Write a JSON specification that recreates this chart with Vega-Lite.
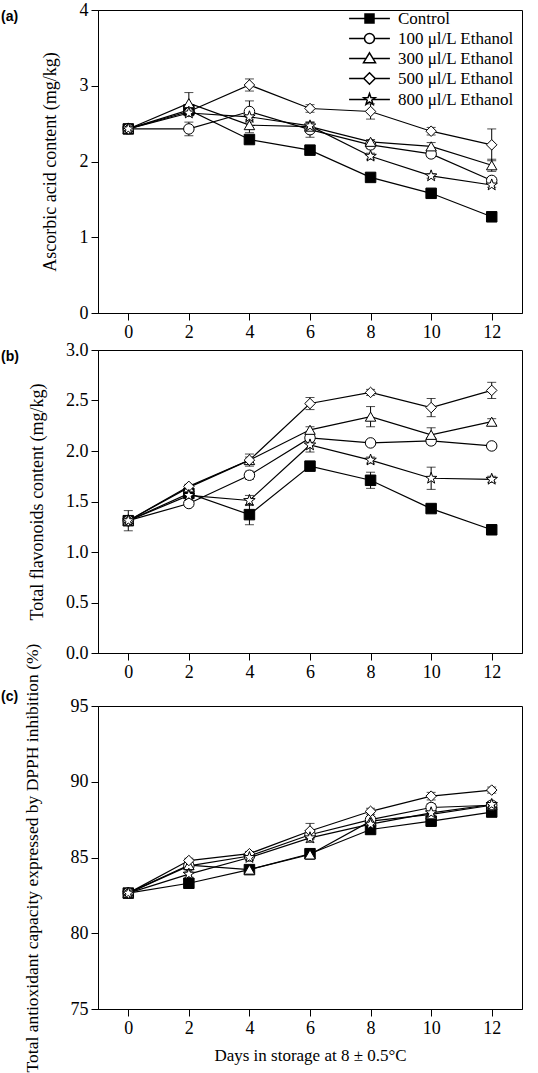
{
  "$schema": "https://vega.github.io/schema/vega-lite/v6.json",
  "background": "white",
  "padding": {"left": 0, "top": 0, "right": 5, "bottom": 0},
  "datasets": {
    "d": [
      {"panel": "a", "series": "Control", "day": 0, "value": 2.43, "err": 0.03},
      {"panel": "a", "series": "Control", "day": 2, "value": 2.68, "err": 0.05},
      {"panel": "a", "series": "Control", "day": 4, "value": 2.29, "err": 0.03},
      {"panel": "a", "series": "Control", "day": 6, "value": 2.15, "err": 0.03},
      {"panel": "a", "series": "Control", "day": 8, "value": 1.79, "err": 0.03},
      {"panel": "a", "series": "Control", "day": 10, "value": 1.58, "err": 0.03},
      {"panel": "a", "series": "Control", "day": 12, "value": 1.27, "err": 0.03},
      {"panel": "a", "series": "100 μl/L Ethanol", "day": 0, "value": 2.43, "err": 0.03},
      {"panel": "a", "series": "100 μl/L Ethanol", "day": 2, "value": 2.43, "err": 0.09},
      {"panel": "a", "series": "100 μl/L Ethanol", "day": 4, "value": 2.66, "err": 0.14},
      {"panel": "a", "series": "100 μl/L Ethanol", "day": 6, "value": 2.42, "err": 0.1},
      {"panel": "a", "series": "100 μl/L Ethanol", "day": 8, "value": 2.22, "err": 0.05},
      {"panel": "a", "series": "100 μl/L Ethanol", "day": 10, "value": 2.1, "err": 0.04},
      {"panel": "a", "series": "100 μl/L Ethanol", "day": 12, "value": 1.75, "err": 0.04},
      {"panel": "a", "series": "300 μl/L Ethanol", "day": 0, "value": 2.43, "err": 0.03},
      {"panel": "a", "series": "300 μl/L Ethanol", "day": 2, "value": 2.77, "err": 0.14},
      {"panel": "a", "series": "300 μl/L Ethanol", "day": 4, "value": 2.48, "err": 0.1},
      {"panel": "a", "series": "300 μl/L Ethanol", "day": 6, "value": 2.46, "err": 0.05},
      {"panel": "a", "series": "300 μl/L Ethanol", "day": 8, "value": 2.26, "err": 0.03},
      {"panel": "a", "series": "300 μl/L Ethanol", "day": 10, "value": 2.2, "err": 0.05},
      {"panel": "a", "series": "300 μl/L Ethanol", "day": 12, "value": 1.95, "err": 0.08},
      {"panel": "a", "series": "500 μl/L Ethanol", "day": 0, "value": 2.43, "err": 0.03},
      {"panel": "a", "series": "500 μl/L Ethanol", "day": 2, "value": 2.66, "err": 0.05},
      {"panel": "a", "series": "500 μl/L Ethanol", "day": 4, "value": 3.01, "err": 0.08},
      {"panel": "a", "series": "500 μl/L Ethanol", "day": 6, "value": 2.7, "err": 0.05},
      {"panel": "a", "series": "500 μl/L Ethanol", "day": 8, "value": 2.66, "err": 0.1},
      {"panel": "a", "series": "500 μl/L Ethanol", "day": 10, "value": 2.4, "err": 0.05},
      {"panel": "a", "series": "500 μl/L Ethanol", "day": 12, "value": 2.22, "err": 0.21},
      {"panel": "a", "series": "800 μl/L Ethanol", "day": 0, "value": 2.43, "err": 0.03},
      {"panel": "a", "series": "800 μl/L Ethanol", "day": 2, "value": 2.64, "err": 0.04},
      {"panel": "a", "series": "800 μl/L Ethanol", "day": 4, "value": 2.59, "err": 0.04},
      {"panel": "a", "series": "800 μl/L Ethanol", "day": 6, "value": 2.47, "err": 0.05},
      {"panel": "a", "series": "800 μl/L Ethanol", "day": 8, "value": 2.07, "err": 0.04},
      {"panel": "a", "series": "800 μl/L Ethanol", "day": 10, "value": 1.81, "err": 0.03},
      {"panel": "a", "series": "800 μl/L Ethanol", "day": 12, "value": 1.69, "err": 0.03},

      {"panel": "b", "series": "Control", "day": 0, "value": 1.31, "err": 0.1},
      {"panel": "b", "series": "Control", "day": 2, "value": 1.58, "err": 0.03},
      {"panel": "b", "series": "Control", "day": 4, "value": 1.37, "err": 0.1},
      {"panel": "b", "series": "Control", "day": 6, "value": 1.85, "err": 0.03},
      {"panel": "b", "series": "Control", "day": 8, "value": 1.71, "err": 0.08},
      {"panel": "b", "series": "Control", "day": 10, "value": 1.43, "err": 0.03},
      {"panel": "b", "series": "Control", "day": 12, "value": 1.22, "err": 0.02},
      {"panel": "b", "series": "100 μl/L Ethanol", "day": 0, "value": 1.31, "err": 0.03},
      {"panel": "b", "series": "100 μl/L Ethanol", "day": 2, "value": 1.48, "err": 0.03},
      {"panel": "b", "series": "100 μl/L Ethanol", "day": 4, "value": 1.76, "err": 0.04},
      {"panel": "b", "series": "100 μl/L Ethanol", "day": 6, "value": 2.13, "err": 0.04},
      {"panel": "b", "series": "100 μl/L Ethanol", "day": 8, "value": 2.08, "err": 0.03},
      {"panel": "b", "series": "100 μl/L Ethanol", "day": 10, "value": 2.1, "err": 0.03},
      {"panel": "b", "series": "100 μl/L Ethanol", "day": 12, "value": 2.05, "err": 0.03},
      {"panel": "b", "series": "300 μl/L Ethanol", "day": 0, "value": 1.31, "err": 0.03},
      {"panel": "b", "series": "300 μl/L Ethanol", "day": 2, "value": 1.64, "err": 0.02},
      {"panel": "b", "series": "300 μl/L Ethanol", "day": 4, "value": 1.91, "err": 0.03},
      {"panel": "b", "series": "300 μl/L Ethanol", "day": 6, "value": 2.21, "err": 0.03},
      {"panel": "b", "series": "300 μl/L Ethanol", "day": 8, "value": 2.34, "err": 0.1},
      {"panel": "b", "series": "300 μl/L Ethanol", "day": 10, "value": 2.16, "err": 0.07},
      {"panel": "b", "series": "300 μl/L Ethanol", "day": 12, "value": 2.29, "err": 0.03},
      {"panel": "b", "series": "500 μl/L Ethanol", "day": 0, "value": 1.31, "err": 0.03},
      {"panel": "b", "series": "500 μl/L Ethanol", "day": 2, "value": 1.65, "err": 0.02},
      {"panel": "b", "series": "500 μl/L Ethanol", "day": 4, "value": 1.91, "err": 0.06},
      {"panel": "b", "series": "500 μl/L Ethanol", "day": 6, "value": 2.47, "err": 0.06},
      {"panel": "b", "series": "500 μl/L Ethanol", "day": 8, "value": 2.58, "err": 0.03},
      {"panel": "b", "series": "500 μl/L Ethanol", "day": 10, "value": 2.43, "err": 0.09},
      {"panel": "b", "series": "500 μl/L Ethanol", "day": 12, "value": 2.6, "err": 0.08},
      {"panel": "b", "series": "800 μl/L Ethanol", "day": 0, "value": 1.31, "err": 0.03},
      {"panel": "b", "series": "800 μl/L Ethanol", "day": 2, "value": 1.56, "err": 0.03},
      {"panel": "b", "series": "800 μl/L Ethanol", "day": 4, "value": 1.51, "err": 0.05},
      {"panel": "b", "series": "800 μl/L Ethanol", "day": 6, "value": 2.06, "err": 0.07},
      {"panel": "b", "series": "800 μl/L Ethanol", "day": 8, "value": 1.91, "err": 0.03},
      {"panel": "b", "series": "800 μl/L Ethanol", "day": 10, "value": 1.73, "err": 0.11},
      {"panel": "b", "series": "800 μl/L Ethanol", "day": 12, "value": 1.72, "err": 0.03},

      {"panel": "c", "series": "Control", "day": 0, "value": 82.65, "err": 0.1},
      {"panel": "c", "series": "Control", "day": 2, "value": 83.3, "err": 0.15},
      {"panel": "c", "series": "Control", "day": 4, "value": 84.2, "err": 0.2},
      {"panel": "c", "series": "Control", "day": 6, "value": 85.25, "err": 0.25},
      {"panel": "c", "series": "Control", "day": 8, "value": 86.85, "err": 0.3},
      {"panel": "c", "series": "Control", "day": 10, "value": 87.4, "err": 0.35},
      {"panel": "c", "series": "Control", "day": 12, "value": 88.0, "err": 0.15},
      {"panel": "c", "series": "100 μl/L Ethanol", "day": 0, "value": 82.65, "err": 0.1},
      {"panel": "c", "series": "100 μl/L Ethanol", "day": 2, "value": 84.45, "err": 0.2},
      {"panel": "c", "series": "100 μl/L Ethanol", "day": 4, "value": 85.1, "err": 0.2},
      {"panel": "c", "series": "100 μl/L Ethanol", "day": 6, "value": 86.5, "err": 0.3},
      {"panel": "c", "series": "100 μl/L Ethanol", "day": 8, "value": 87.5, "err": 0.2},
      {"panel": "c", "series": "100 μl/L Ethanol", "day": 10, "value": 88.3, "err": 0.25},
      {"panel": "c", "series": "100 μl/L Ethanol", "day": 12, "value": 88.45, "err": 0.2},
      {"panel": "c", "series": "300 μl/L Ethanol", "day": 0, "value": 82.65, "err": 0.1},
      {"panel": "c", "series": "300 μl/L Ethanol", "day": 2, "value": 84.5, "err": 0.2},
      {"panel": "c", "series": "300 μl/L Ethanol", "day": 4, "value": 84.2, "err": 0.2},
      {"panel": "c", "series": "300 μl/L Ethanol", "day": 6, "value": 85.2, "err": 0.3},
      {"panel": "c", "series": "300 μl/L Ethanol", "day": 8, "value": 87.4, "err": 0.3},
      {"panel": "c", "series": "300 μl/L Ethanol", "day": 10, "value": 87.85, "err": 0.3},
      {"panel": "c", "series": "300 μl/L Ethanol", "day": 12, "value": 88.45, "err": 0.2},
      {"panel": "c", "series": "500 μl/L Ethanol", "day": 0, "value": 82.65, "err": 0.1},
      {"panel": "c", "series": "500 μl/L Ethanol", "day": 2, "value": 84.8, "err": 0.15},
      {"panel": "c", "series": "500 μl/L Ethanol", "day": 4, "value": 85.25, "err": 0.15},
      {"panel": "c", "series": "500 μl/L Ethanol", "day": 6, "value": 86.75, "err": 0.5},
      {"panel": "c", "series": "500 μl/L Ethanol", "day": 8, "value": 88.05, "err": 0.2},
      {"panel": "c", "series": "500 μl/L Ethanol", "day": 10, "value": 89.05, "err": 0.25},
      {"panel": "c", "series": "500 μl/L Ethanol", "day": 12, "value": 89.45, "err": 0.2},
      {"panel": "c", "series": "800 μl/L Ethanol", "day": 0, "value": 82.65, "err": 0.1},
      {"panel": "c", "series": "800 μl/L Ethanol", "day": 2, "value": 83.9, "err": 0.2},
      {"panel": "c", "series": "800 μl/L Ethanol", "day": 4, "value": 85.0, "err": 0.2},
      {"panel": "c", "series": "800 μl/L Ethanol", "day": 6, "value": 86.3, "err": 0.3},
      {"panel": "c", "series": "800 μl/L Ethanol", "day": 8, "value": 87.2, "err": 0.3},
      {"panel": "c", "series": "800 μl/L Ethanol", "day": 10, "value": 87.95, "err": 0.3},
      {"panel": "c", "series": "800 μl/L Ethanol", "day": 12, "value": 88.5, "err": 0.2}
    ]
  },
  "data": {"name": "d"},
  "spacing": -40,
  "resolve": {"scale": {"x": "independent", "y": "independent", "shape": "independent", "fill": "independent"}},
  "vconcat": [
    {
      "bounds": "flush",
      "spacing": 37,
      "resolve": {"scale": {"x": "independent", "y": "independent", "shape": "independent", "fill": "independent"}},
      "vconcat": [
        {
          "width": 424,
          "height": 303,
          "title": {"text": "(a)", "anchor": "start", "frame": "group", "dx": -97, "dy": 34, "offset": 0, "baseline": "alphabetic", "fontSize": 14, "fontWeight": "bold", "font": "Liberation Sans", "color": "black"},
          "transform": [{"filter": "datum.panel === 'a'"}],
          "encoding": {
            "x": {"field": "day", "type": "quantitative", "scale": {"domain": [-1, 13], "nice": false, "zero": false}, "axis": {"values": [0, 2, 4, 6, 8, 10, 12], "title": null}},
            "y": {"field": "value", "type": "quantitative", "scale": {"domain": [0, 4], "nice": false, "zero": false}, "axis": {"values": [0, 1, 2, 3, 4], "title": "Ascorbic acid content (mg/kg)", "titlePadding": 20, "titleFontSize": 18}}
          },
          "resolve": {"scale": {"shape": "independent", "fill": "independent"}, "legend": {"shape": "independent", "fill": "independent"}},
          "layer": [
            {"transform": [{"filter": "datum.err > 0"}], "mark": {"type": "errorbar", "ticks": {"size": 9, "color": "black"}, "color": "black", "thickness": 1}, "encoding": {"yError": {"field": "err"}}},
            {"mark": {"type": "line", "color": "black", "strokeWidth": 1.2}, "encoding": {"detail": {"field": "series"}}},
            {"mark": {"type": "point", "filled": true, "stroke": "black", "strokeWidth": 1, "size": 110, "opacity": 1},
             "encoding": {
               "shape": {"field": "series", "type": "nominal",
                 "scale": {"domain": ["Control", "100 μl/L Ethanol", "300 μl/L Ethanol", "500 μl/L Ethanol", "800 μl/L Ethanol"],
                           "range": ["square", "circle", "triangle-up", "diamond", "M0,-1.15L0.27,-0.373L1.094,-0.355L0.437,0.143L0.676,0.93L0,0.46L-0.676,0.93L-0.437,0.143L-1.094,-0.355L-0.27,-0.373Z"]},
                 "legend": null},
               "fill": {"field": "series", "type": "nominal",
                 "scale": {"domain": ["Control", "100 μl/L Ethanol", "300 μl/L Ethanol", "500 μl/L Ethanol", "800 μl/L Ethanol"], "range": ["black", "white", "white", "white", "white"]},
                 "legend": null}
             }},
            {"transform": [{"filter": "false"}],
             "mark": {"type": "point", "filled": true, "fill": "white", "stroke": "black", "strokeWidth": 1.1, "size": 144, "opacity": 1},
             "encoding": {
               "shape": {"field": "series", "type": "nominal",
                 "scale": {"domain": ["Control", "100 μl/L Ethanol", "300 μl/L Ethanol", "500 μl/L Ethanol", "800 μl/L Ethanol"],
                           "range": ["M-3.4,0H-0.75M0.75,0H3.4M-0.75,-0.75H0.75V0.75H-0.75ZM-0.75,-0.6H0.75M-0.75,-0.45H0.75M-0.75,-0.3H0.75M-0.75,-0.15H0.75M-0.75,0H0.75M-0.75,0.15H0.75M-0.75,0.3H0.75M-0.75,0.45H0.75M-0.75,0.6H0.75", "M-3.4,0H-0.83M0.83,0H3.4M-0.83,0A0.83,0.83 0 1,0 0.83,0A0.83,0.83 0 1,0 -0.83,0Z", "M-3.4,0H-0.58M0.58,0H3.4M0,-0.95L1,0.7H-1Z", "M-3.4,0H-0.95M0.95,0H3.4M0,-0.95L0.95,0L0,0.95L-0.95,0Z", "M-3.4,0H-0.54M0.54,0H3.4M0,-1L0.235,-0.324L0.951,-0.309L0.38,0.124L0.588,0.809L0,0.4L-0.588,0.809L-0.38,0.124L-0.951,-0.309L-0.235,-0.324Z"]},
                 "legend": {"title": null, "orient": "none", "legendX": 263, "legendY": 0, "padding": 0, "symbolSize": 144, "labelOffset": 20, "labelFont": "Liberation Serif", "labelFontSize": 17, "labelColor": "black", "rowPadding": 2}}
             }}
          ]
        },
        {
          "width": 424,
          "height": 303,
          "title": {"text": "(b)", "anchor": "start", "frame": "group", "dx": -97, "dy": 34, "offset": 0, "baseline": "alphabetic", "fontSize": 14, "fontWeight": "bold", "font": "Liberation Sans", "color": "black"},
          "transform": [{"filter": "datum.panel === 'b'"}],
          "encoding": {
            "x": {"field": "day", "type": "quantitative", "scale": {"domain": [-1, 13], "nice": false, "zero": false}, "axis": {"values": [0, 2, 4, 6, 8, 10, 12], "title": null}},
            "y": {"field": "value", "type": "quantitative", "scale": {"domain": [0, 3], "nice": false, "zero": false}, "axis": {"values": [0, 0.5, 1, 1.5, 2, 2.5, 3], "format": ".1f", "title": "Total flavonoids content (mg/kg)", "titlePadding": 19, "titleFontSize": 18}}
          },
          "layer": [
            {"transform": [{"filter": "datum.err > 0"}], "mark": {"type": "errorbar", "ticks": {"size": 9, "color": "black"}, "color": "black", "thickness": 1}, "encoding": {"yError": {"field": "err"}}},
            {"mark": {"type": "line", "color": "black", "strokeWidth": 1.2}, "encoding": {"detail": {"field": "series"}}},
            {"mark": {"type": "point", "filled": true, "stroke": "black", "strokeWidth": 1, "size": 110, "opacity": 1},
             "encoding": {
               "shape": {"field": "series", "type": "nominal",
                 "scale": {"domain": ["Control", "100 μl/L Ethanol", "300 μl/L Ethanol", "500 μl/L Ethanol", "800 μl/L Ethanol"],
                           "range": ["square", "circle", "triangle-up", "diamond", "M0,-1.15L0.27,-0.373L1.094,-0.355L0.437,0.143L0.676,0.93L0,0.46L-0.676,0.93L-0.437,0.143L-1.094,-0.355L-0.27,-0.373Z"]},
                 "legend": null},
               "fill": {"field": "series", "type": "nominal",
                 "scale": {"domain": ["Control", "100 μl/L Ethanol", "300 μl/L Ethanol", "500 μl/L Ethanol", "800 μl/L Ethanol"], "range": ["black", "white", "white", "white", "white"]},
                 "legend": null}
             }}
          ]
        }
      ]
    },
    {
      "width": 424,
      "height": 303,
      "title": {"text": "(c)", "anchor": "start", "frame": "group", "dx": -97, "dy": 72, "offset": 0, "baseline": "alphabetic", "fontSize": 14, "fontWeight": "bold", "font": "Liberation Sans", "color": "black"},
      "transform": [{"filter": "datum.panel === 'c'"}],
      "encoding": {
        "x": {"field": "day", "type": "quantitative", "scale": {"domain": [-1, 13], "nice": false, "zero": false}, "axis": {"values": [0, 2, 4, 6, 8, 10, 12], "title": "Days in storage at 8 ± 0.5°C", "titlePadding": 10, "titleFontSize": 17}},
        "y": {"field": "value", "type": "quantitative", "scale": {"domain": [75, 95], "nice": false, "zero": false}, "axis": {"values": [75, 80, 85, 90, 95], "title": "Total antioxidant capacity expressed by DPPH inhibition (%)", "titlePadding": 29, "titleFontSize": 17.5}}
      },
      "layer": [
        {"transform": [{"filter": "datum.err > 0"}], "mark": {"type": "errorbar", "ticks": {"size": 9, "color": "black"}, "color": "black", "thickness": 1}, "encoding": {"yError": {"field": "err"}}},
        {"mark": {"type": "line", "color": "black", "strokeWidth": 1.2}, "encoding": {"detail": {"field": "series"}}},
        {"mark": {"type": "point", "filled": true, "stroke": "black", "strokeWidth": 1, "size": 110, "opacity": 1},
         "encoding": {
           "shape": {"field": "series", "type": "nominal",
             "scale": {"domain": ["Control", "100 μl/L Ethanol", "300 μl/L Ethanol", "500 μl/L Ethanol", "800 μl/L Ethanol"],
                       "range": ["square", "circle", "triangle-up", "diamond", "M0,-1.15L0.27,-0.373L1.094,-0.355L0.437,0.143L0.676,0.93L0,0.46L-0.676,0.93L-0.437,0.143L-1.094,-0.355L-0.27,-0.373Z"]},
             "legend": null},
           "fill": {"field": "series", "type": "nominal",
             "scale": {"domain": ["Control", "100 μl/L Ethanol", "300 μl/L Ethanol", "500 μl/L Ethanol", "800 μl/L Ethanol"], "range": ["black", "white", "white", "white", "white"]},
             "legend": null}
         }}
      ]
    }
  ],
  "config": {
    "view": {"stroke": "black", "strokeWidth": 1},
    "axis": {"grid": false, "domainColor": "black", "domainWidth": 1, "tickColor": "black", "tickWidth": 1, "tickSize": 7, "labelFont": "Liberation Serif", "labelFontSize": 18, "labelColor": "black", "labelPadding": 3, "titleFont": "Liberation Serif", "titleFontSize": 18, "titleFontWeight": "normal", "titleColor": "black"}
  }
}
